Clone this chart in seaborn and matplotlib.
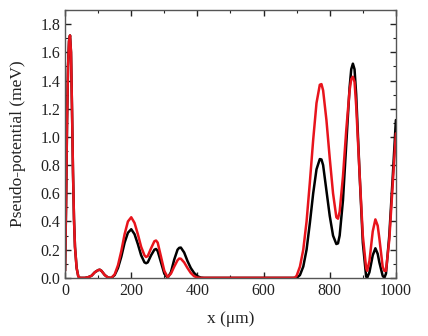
import numpy as np
import pandas as pd
import matplotlib
matplotlib.use("Agg")
import matplotlib.pyplot as plt
import seaborn as sns
from matplotlib.ticker import MultipleLocator

# Values (x in um, potential in meV)
x_um = [0, 3, 6, 9, 12, 15, 18, 21, 24, 27, 30, 35, 40, 45, 50, 60, 70, 80, 90, 100,
        105, 110, 120, 130, 140, 150, 160, 170, 180, 190, 200, 210, 220, 230, 240, 245,
        250, 260, 270, 275, 280, 290, 300, 310, 320, 330, 340, 345, 350, 360, 370, 380,
        390, 400, 410, 420, 450, 500, 550, 600, 650, 690, 695, 700, 710, 720, 730, 740,
        750, 760, 770, 775, 780, 790, 800, 810, 820, 825, 830, 840, 850, 860, 865, 870,
        875, 880, 890, 900, 910, 913, 920, 930, 938, 945, 950, 960, 965, 970, 980, 990, 1000]

black_meV = [0.05, 0.5, 1.1, 1.5, 1.68, 1.72, 1.6, 1.2, 0.75, 0.42, 0.22, 0.07, 0.01, 0.0, 0.0, 0.0, 0.005, 0.015, 0.04, 0.055,
             0.058, 0.05, 0.02, 0.002, 0.0, 0.02, 0.07, 0.15, 0.25, 0.32, 0.345, 0.31, 0.24, 0.16, 0.11, 0.104,
             0.11, 0.16, 0.2, 0.205, 0.19, 0.11, 0.03, 0.0, 0.04, 0.13, 0.2, 0.213, 0.215, 0.18, 0.12, 0.07,
             0.035, 0.012, 0.002, 0.0, 0.0, 0.0, 0.0, 0.0, 0.0, 0.0, 0.0, 0.0, 0.02, 0.08, 0.2, 0.39,
             0.6, 0.77, 0.843, 0.84, 0.8, 0.62, 0.44, 0.3, 0.24, 0.245, 0.3, 0.55, 0.95, 1.35, 1.48, 1.52,
             1.48, 1.3, 0.75, 0.25, 0.01, 0.0, 0.04, 0.16, 0.21, 0.17, 0.11, 0.015, 0.0, 0.03, 0.3, 0.7, 1.12]

red_meV = [0.05, 0.5, 1.1, 1.5, 1.68, 1.72, 1.6, 1.2, 0.75, 0.42, 0.22, 0.07, 0.01, 0.0, 0.0, 0.0, 0.005, 0.015, 0.04, 0.055,
           0.058, 0.05, 0.02, 0.002, 0.0, 0.025, 0.09, 0.19, 0.31, 0.4, 0.43, 0.39, 0.31, 0.22, 0.16, 0.148,
           0.155, 0.21, 0.26, 0.265, 0.25, 0.15, 0.05, 0.005, 0.03, 0.08, 0.125, 0.137, 0.136, 0.11, 0.07, 0.035,
           0.012, 0.002, 0.0, 0.0, 0.0, 0.0, 0.0, 0.0, 0.0, 0.0, 0.003, 0.015, 0.08, 0.2, 0.4, 0.68,
           0.98, 1.24, 1.37, 1.375, 1.33, 1.12, 0.85, 0.6, 0.43, 0.42, 0.47, 0.72, 1.05, 1.33, 1.41, 1.427,
           1.39, 1.22, 0.75, 0.3, 0.07, 0.05, 0.12, 0.33, 0.415, 0.37, 0.28, 0.08, 0.05, 0.05, 0.27, 0.65, 1.025]

df = pd.DataFrame({"x": x_um, "black": black_meV, "red": red_meV})

sns.set_style("ticks")
plt.rcParams["font.family"] = ["Liberation Serif", "DejaVu Serif"]

fig = plt.figure(figsize=(4.28, 3.36), dpi=100)
ax = fig.add_axes([0.152, 0.173, 0.773, 0.797])

sns.lineplot(data=df, x="x", y="black", color="black", linewidth=1.8, ax=ax)
sns.lineplot(data=df, x="x", y="red", color="#e8141c", linewidth=1.8, ax=ax)

ax.set_xlim(0, 1000)
ax.set_ylim(0, 1.9)
ax.xaxis.set_major_locator(MultipleLocator(200))
ax.xaxis.set_minor_locator(MultipleLocator(100))
ax.yaxis.set_major_locator(MultipleLocator(0.2))
ax.yaxis.set_minor_locator(MultipleLocator(0.1))
ax.yaxis.set_major_formatter(matplotlib.ticker.FormatStrFormatter("%.1f"))

ax.tick_params(which="both", direction="in", top=True, right=True, colors="#222222",
               labelcolor="#222222", labelsize=11.5)
ax.tick_params(which="major", length=4, width=1)
ax.tick_params(which="minor", length=2, width=0.8)
for s in ax.spines.values():
    s.set_color("#555555")
    s.set_linewidth(1)

ax.set_xlabel("x (μm)", fontsize=12.5, color="#222222", labelpad=9)
ax.set_ylabel("Pseudo-potential (meV)", fontsize=12.5, color="#222222", labelpad=10)

plt.savefig("out.png", dpi=100)
